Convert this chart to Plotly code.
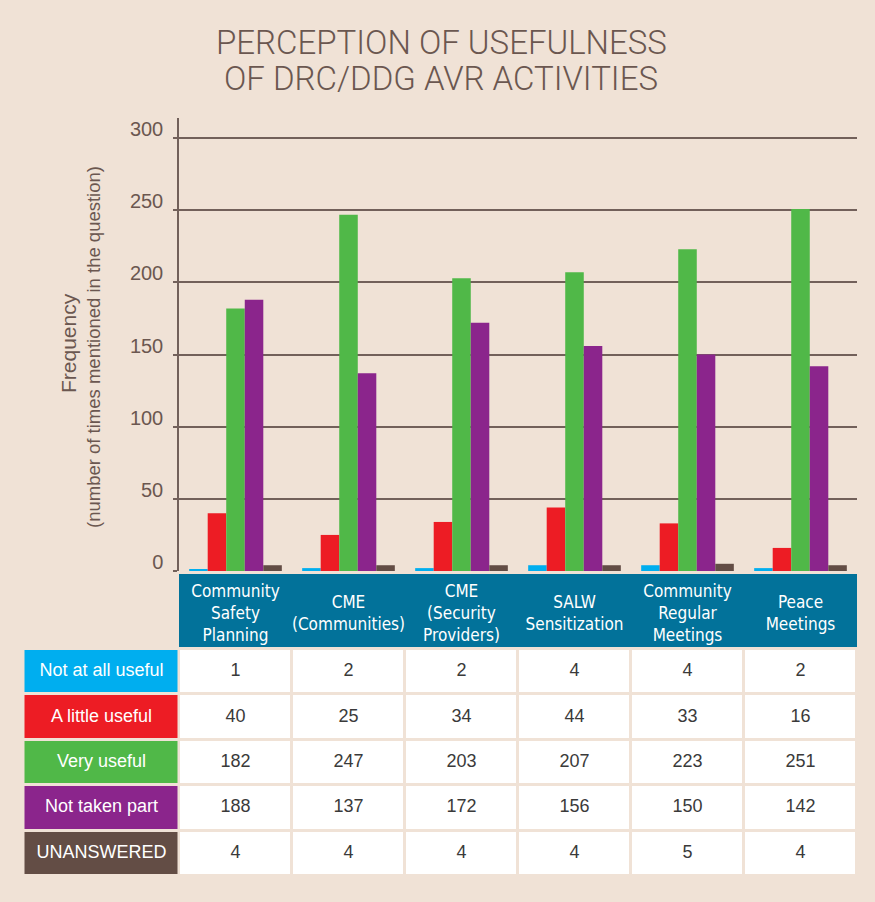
import plotly.graph_objects as go

categories = ["Community<br>Safety<br>Planning", "CME<br>(Communities)", "CME<br>(Security<br>Providers)",
              "SALW<br>Sensitization", "Community<br>Regular<br>Meetings", "Peace<br>Meetings"]
series_names = ["Not at all useful", "A little useful", "Very useful", "Not taken part", "UNANSWERED"]
not_at_all = [1, 2, 2, 4, 4, 2]
little = [40, 25, 34, 44, 33, 16]
very = [182, 247, 203, 207, 223, 251]
not_taken = [188, 137, 172, 156, 150, 142]
unanswered = [4, 4, 4, 4, 5, 4]
series_values = [not_at_all, little, very, not_taken, unanswered]
colors = ["#00aeef", "#ed1c24", "#50b848", "#8b258c", "#634d45"]
y_ticks = [0, 50, 100, 150, 200, 250, 300]

BG = "#f0e2d6"
TXT = "#6b5750"
GRID = "#72605a"
TEAL = "#02729a"
W, H = 875, 902
SANS = "Liberation Sans, Arial, sans-serif"
COND = "Liberation Sans Narrow, DejaVu Sans Condensed, Arial Narrow, sans-serif"

def py(p):  # pixel from top -> paper
    return 1 - p / H

nrow, ncat = len(series_names), len(categories)
x_idx = list(range(ncat))

fig = go.Figure()
for name, vals, c in zip(series_names, series_values, colors):
    fig.add_trace(go.Bar(x=x_idx, y=vals, name=name, marker=dict(color=c, line=dict(width=0)),
                         xaxis="x", yaxis="y", showlegend=False, hoverinfo="y+name"))

# ---- table drawn with heatmaps (backgrounds) + text scatters ----
fig.add_trace(go.Heatmap(x=x_idx, y=["h"], z=[[0] * ncat], colorscale=[[0, TEAL], [1, TEAL]],
                         showscale=False, xaxis="x", yaxis="y3", hoverinfo="skip"))
fig.add_trace(go.Heatmap(x=x_idx, y=series_names, z=[[0] * ncat for _ in series_names],
                         colorscale=[[0, "white"], [1, "white"]], xgap=3, ygap=3,
                         showscale=False, xaxis="x", yaxis="y2", hoverinfo="skip"))
fig.add_trace(go.Heatmap(x=["lab"], y=series_names, z=[[i] for i in range(nrow)], zmin=0, zmax=nrow - 1,
                         colorscale=[[i / (nrow - 1), c] for i, c in enumerate(colors)], xgap=3, ygap=3,
                         showscale=False, xaxis="x2", yaxis="y2", hoverinfo="skip"))
fig.add_trace(go.Scatter(x=x_idx, y=["h"] * ncat, text=categories, mode="text",
                         textposition="middle center", xaxis="x", yaxis="y4", cliponaxis=False,
                         textfont=dict(color="white", size=17, family=COND),
                         showlegend=False, hoverinfo="skip"))
fig.add_trace(go.Scatter(x=["lab"] * nrow, y=series_names, text=series_names, mode="text",
                         textposition="middle center", xaxis="x2", yaxis="y2", cliponaxis=False,
                         textfont=dict(color="white", size=18, family=SANS),
                         showlegend=False, hoverinfo="skip"))
for name, vals in zip(series_names, series_values):
    fig.add_trace(go.Scatter(x=x_idx, y=[name] * len(vals), text=[str(v) for v in vals], mode="text",
                             textposition="middle center", xaxis="x", yaxis="y2", cliponaxis=False,
                             textfont=dict(color="#3a3a3a", size=18, family=SANS),
                             showlegend=False, hoverinfo="skip"))

hidden = dict(visible=False, automargin=False, showgrid=False, zeroline=False)
fig.update_layout(
    template="none",
    width=W, height=H, autosize=False,
    margin=dict(l=0, r=0, t=0, b=0, pad=0, autoexpand=False),
    paper_bgcolor=BG, plot_bgcolor="rgba(0,0,0,0)",
    barmode="group", bargap=0.18, bargroupgap=0,
    xaxis=dict(domain=[179 / W, 857 / W], range=[-0.5, 5.5], showticklabels=False, showgrid=False,
               zeroline=False, showline=False, ticks="", automargin=False),
    xaxis2=dict(domain=[23.5 / W, 179.5 / W], type="category", range=[-0.5, 0.5], anchor="y2", **hidden),
    yaxis=dict(domain=[py(571), py(118)], range=[0, 314], tickvals=y_ticks, automargin=False,
               showgrid=True, gridcolor=GRID, gridwidth=1.5, zeroline=False,
               showline=True, linecolor=GRID, linewidth=1.5,
               ticks="outside", ticklen=4, tickcolor=GRID, tickwidth=1.5,
               ticklabelshift=-9, ticklabelstandoff=6,
               tickfont=dict(size=20, color=TXT, family=SANS)),
    yaxis2=dict(domain=[py(876), py(649)], type="category", categoryarray=series_names,
                range=[nrow - 0.5, -0.5], anchor="x", **hidden),
    yaxis3=dict(domain=[py(647), py(574)], type="category", range=[-0.5, 0.5], anchor="x", **hidden),
    yaxis4=dict(domain=[py(652), py(578)], type="category", range=[-0.5, 0.5], anchor="x", **hidden),
    font=dict(family=SANS, color=TXT),
    annotations=[
        dict(text="PERCEPTION OF USEFULNESS", x=441 / W, y=py(42), height=34,
             xref="paper", yref="paper", showarrow=False, xanchor="center", yanchor="middle",
             font=dict(size=33, color=TXT, family="Roboto, sans-serif", weight=300)),
        dict(text="OF DRC/DDG AVR ACTIVITIES", x=441 / W, y=py(78), height=34,
             xref="paper", yref="paper", showarrow=False, xanchor="center", yanchor="middle",
             font=dict(size=33, color=TXT, family="Roboto, sans-serif", weight=300)),
        dict(text="Frequency", x=68 / W, y=py(343), xref="paper", yref="paper", showarrow=False,
             textangle=-90, xanchor="center", yanchor="middle",
             font=dict(size=21, color=TXT, family=SANS)),
        dict(text="(number of times mentioned in the question)", x=93 / W, y=py(347), xref="paper", yref="paper",
             showarrow=False, textangle=-90, xanchor="center", yanchor="middle",
             font=dict(size=18.5, color=TXT, family=SANS)),
    ],
)

fig.write_html("out.html", config={"displayModeBar": False, "responsive": False},
               post_script="document.body.style.margin='0px';")
